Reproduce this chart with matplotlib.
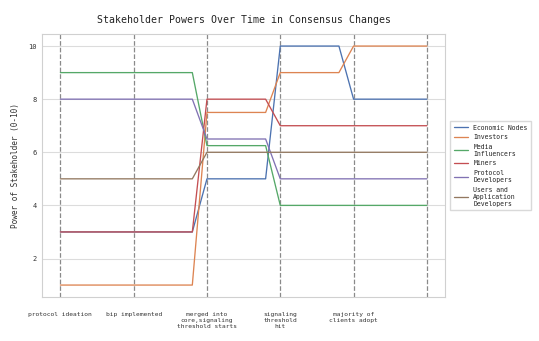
import matplotlib
matplotlib.use("Agg")
import matplotlib.pyplot as plt
import seaborn as sns

# event timeline (x positions of the stages) and their labels
event_pos = [0, 1, 2, 3, 4, 5]
event_labels = ["protocol ideation", "bip implemented",
                "merged into\ncore,signaling\nthreshold starts",
                "signaling\nthreshold\nhit", "majority of\nclients adopt", ""]

# sample times: flat stretches with a short ramp before each stage
times = [0, 1, 1.8, 2, 2.8, 3, 3.8, 4, 5]

economic_nodes = [3, 3, 3, 5, 5, 10, 10, 8, 8]
investors = [1, 1, 1, 7.5, 7.5, 9, 9, 10, 10]
media_influencers = [9, 9, 9, 6.25, 6.25, 4, 4, 4, 4]
miners = [3, 3, 3, 8, 8, 7, 7, 7, 7]
protocol_devs = [8, 8, 8, 6.5, 6.5, 5, 5, 5, 5]
users_devs = [5, 5, 5, 6, 6, 6, 6, 6, 6]

series = [
    ("Economic Nodes", economic_nodes),
    ("Investors", investors),
    ("Media\nInfluencers", media_influencers),
    ("Miners", miners),
    ("Protocol\nDevelopers", protocol_devs),
    ("Users and\nApplication\nDevelopers", users_devs),
]

sns.set_theme(style="whitegrid")
plt.rcParams["font.family"] = ["DejaVu Sans Mono"]

fig = plt.figure(figsize=(5.39, 3.41), dpi=100)
ax = fig.add_axes([0.078, 0.129, 0.748, 0.771])

colors = sns.color_palette("deep")
for (name, vals), c in zip(series, colors):
    ax.plot(times, vals, color=c, lw=0.95, label=name)

for x in event_pos:
    ax.axvline(x, color="#8a8a8a", ls="--", lw=0.9, zorder=0.5)

ax.set_xticks(event_pos)
ax.set_xticklabels(event_labels, fontsize=4.5, color="#333333")
ax.tick_params(axis="x", length=0, pad=11)
ax.tick_params(axis="y", length=0, pad=4, labelsize=5, labelcolor="#333333")
ax.set_yticks([2, 4, 6, 8, 10])
ax.grid(axis="x", visible=False)
ax.grid(axis="y", color="#dcdcdc", lw=0.8)
for s in ax.spines.values():
    s.set_color("#d0d0d0")
    s.set_linewidth(0.8)

ax.set_title("Stakeholder Powers Over Time in Consensus Changes",
             fontsize=7.1, color="#222222", pad=8)
ax.set_ylabel("Power of Stakeholder (0-10)", fontsize=5.6, color="#333333", labelpad=6)

ax.legend(loc="center left", bbox_to_anchor=(1.004, 0.5), fontsize=4.7,
          frameon=True, fancybox=False, edgecolor="#d0d0d0",
          handlelength=2.2, labelspacing=0.55, borderpad=0.55)

fig.savefig("out.png", dpi=100)
